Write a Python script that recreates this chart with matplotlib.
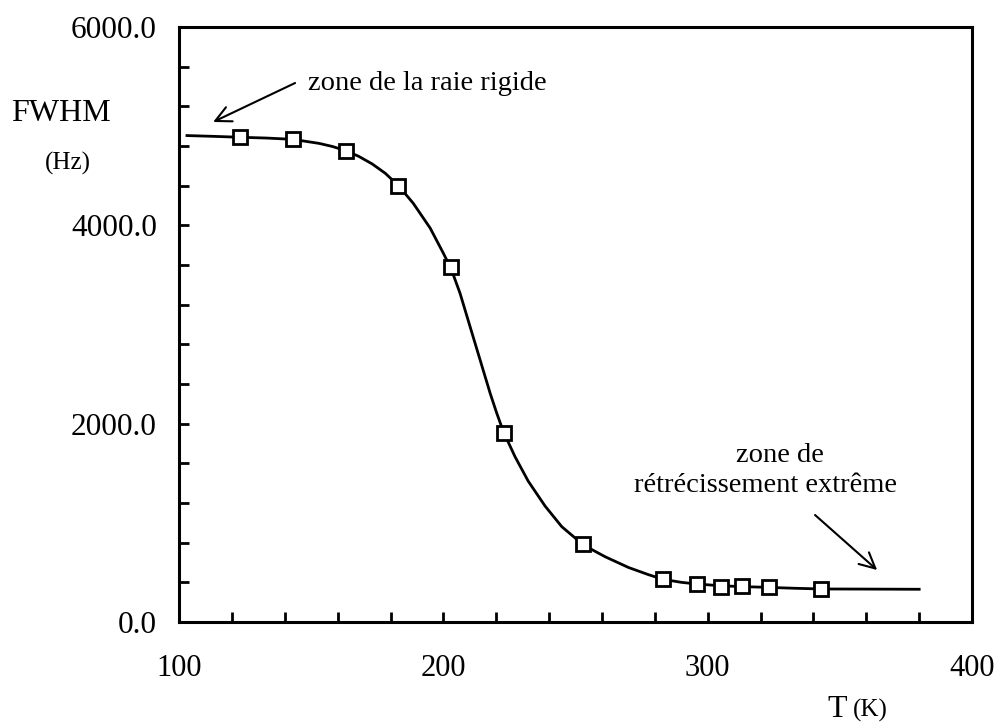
import matplotlib
matplotlib.use('Agg')
import matplotlib.pyplot as plt
from matplotlib.ticker import MultipleLocator

plt.rcParams['font.family'] = ['Liberation Serif', 'DejaVu Serif']

# measured linewidths (T in K, FWHM in Hz)
temperature = [123, 143, 163, 183, 203, 223, 253, 283, 296, 305, 313, 323, 343]
fwhm = [4888, 4868, 4753, 4397, 3575, 1910, 785, 431, 383, 356, 363, 350, 330]

# fitted curve through the measurements
fit_t = [103, 113, 123, 133, 143, 153, 158, 163, 168, 173, 178, 183, 188.6,
         195, 200, 203, 206.3, 210.1, 213.9, 217.7, 220.2, 222.7, 227.1,
         232.1, 238.5, 244.8, 253, 261.2, 270, 277.5, 283, 290, 296, 305,
         313, 323, 333, 343, 358, 380]
fit_fwhm = [4905, 4897, 4888, 4880, 4867, 4826, 4795, 4753, 4695, 4620, 4525,
            4400, 4222, 3972, 3718, 3556, 3315, 2978, 2642, 2306, 2105, 1919,
            1667, 1420, 1168, 961, 776, 658, 550, 478, 431, 400, 383, 365,
            357, 349, 340, 333, 332, 330]

x_ticks = [100, 200, 300, 400]
y_ticks = [0, 2000, 4000, 6000]

fig = plt.figure(figsize=(9.98, 7.23), dpi=100)
ax = fig.add_axes([0.1794, 0.1397, 0.7946, 0.8230])

ax.plot(fit_t, fit_fwhm, color='black', linewidth=2.0, solid_joinstyle='round',
        zorder=2)
ax.plot(temperature, fwhm, linestyle='none', marker='s', markersize=10,
        markerfacecolor='white', markeredgecolor='black', markeredgewidth=2,
        zorder=3)

ax.set_xlim(100, 400)
ax.set_ylim(0, 6000)
ax.set_xticks(x_ticks)
ax.set_yticks(y_ticks)
ax.set_xticklabels([str(t) for t in x_ticks])
ax.set_yticklabels(['%.1f' % v for v in y_ticks])
ax.xaxis.set_minor_locator(MultipleLocator(20))
ax.yaxis.set_minor_locator(MultipleLocator(400))
ax.tick_params(which='both', direction='in', length=7, width=2,
               top=False, right=False)
ax.tick_params(axis='x', labelsize=22, pad=23)
ax.tick_params(axis='y', labelsize=22.5, pad=16)
for spine in ax.spines.values():
    spine.set_linewidth(2.2)

# annotations
ax.text(148.8, 5365, 'zone de la raie rigide', fontsize=20.5, ha='left',
        va='baseline')
ax.annotate('', xy=(112.9, 5042), xytext=(143.9, 5435),
            arrowprops=dict(arrowstyle='->', lw=1.5, color='black',
                            mutation_scale=28, shrinkA=0, shrinkB=0))
ax.text(327.4, 1613, 'zone de', fontsize=20.5, ha='center', va='baseline')
ax.text(321.7, 1311, 'rétrécissement extrême', fontsize=20.5, ha='center',
        va='baseline')
ax.annotate('', xy=(364.1, 524), xytext=(340.6, 1079),
            arrowprops=dict(arrowstyle='->', lw=1.5, color='black',
                            mutation_scale=28, shrinkA=0, shrinkB=0))

# axis titles
fig.text(0.0611, 0.8326, 'FWHM', fontsize=23, ha='center', va='baseline')
fig.text(0.0681, 0.7649, '(Hz)', fontsize=18, ha='center', va='baseline')
fig.text(0.8287, 0.0083, 'T', fontsize=23, ha='left', va='baseline')
fig.text(0.8547, 0.0083, '(K)', fontsize=18, ha='left', va='baseline')

fig.savefig('out.png', dpi=100)
